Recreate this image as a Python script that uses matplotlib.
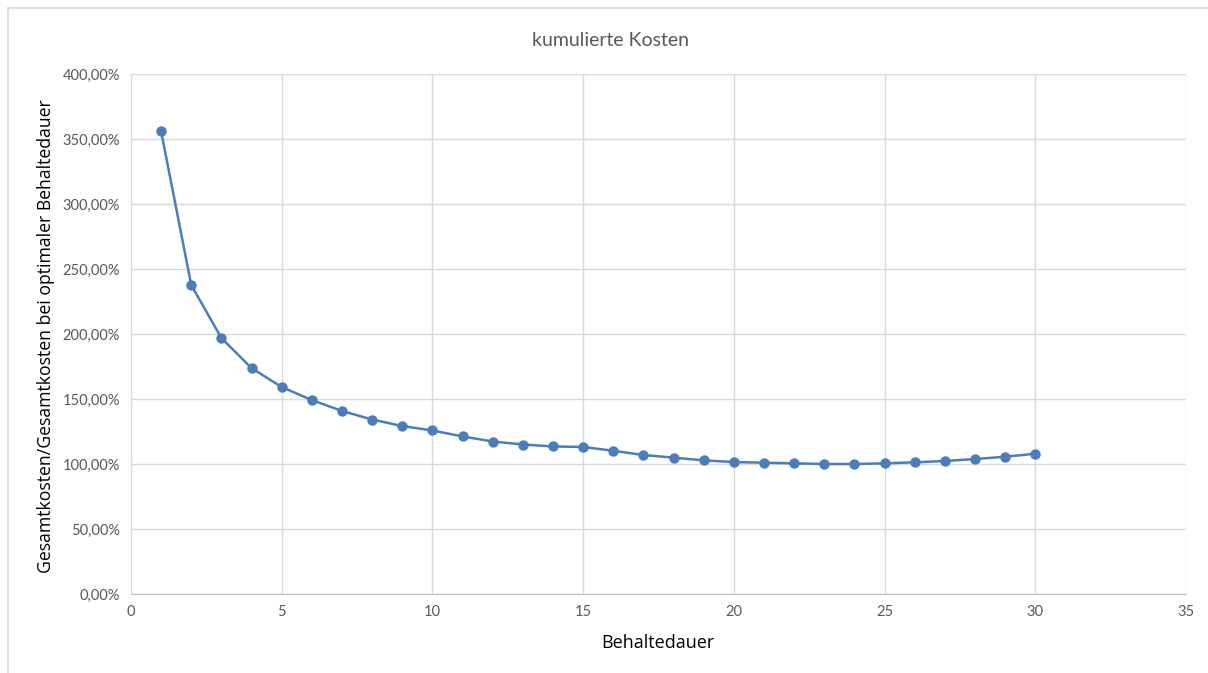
import matplotlib

matplotlib.use("Agg")
import matplotlib.pyplot as plt
from matplotlib.lines import Line2D
from matplotlib.ticker import FuncFormatter, MultipleLocator

# Behaltedauer (Jahre) und Gesamtkosten relativ zur optimalen Behaltedauer (%)
behaltedauer = list(range(1, 31))
kosten_relativ = [
    356.0, 237.7, 196.9, 173.8, 159.2, 149.2, 140.8, 134.2, 129.2, 125.8,
    121.2, 117.3, 115.0, 113.5, 113.1, 110.2, 106.9, 104.9, 102.8, 101.5,
    101.0, 100.5, 100.0, 100.0, 100.5, 101.3, 102.3, 103.8, 105.6, 107.9,
]

title = "kumulierte Kosten"
xlabel = "Behaltedauer"
ylabel = "Gesamtkosten/Gesamtkosten bei optimaler Behaltedauer"

plt.rcParams["font.family"] = ["Lato", "DejaVu Sans"]

grid_color = "#d9d9d9"
tick_color = "#595959"
line_color = "#4a7ebb"
label_font = ["Open Sans", "DejaVu Sans"]

fig = plt.figure(figsize=(12.08, 6.73), dpi=100)
ax = fig.add_axes([0.1084, 0.1174, 0.8734, 0.7726])

ax.plot(behaltedauer, kosten_relativ, color=line_color, linewidth=1.8,
        marker="o", markersize=7.5, markeredgewidth=0, zorder=3)

ax.set_xlim(0, 35)
ax.set_ylim(0, 400)
ax.xaxis.set_major_locator(MultipleLocator(5))
ax.yaxis.set_major_locator(MultipleLocator(50))
ax.yaxis.set_major_formatter(
    FuncFormatter(lambda v, _: f"{v:.2f}%".replace(".", ",")))

ax.grid(True, color=grid_color, linewidth=1.0)
ax.set_axisbelow(True)
for side in ("top", "right"):
    ax.spines[side].set_visible(False)
ax.spines["left"].set_color(grid_color)
ax.spines["bottom"].set_color("#bfbfbf")
ax.tick_params(length=0, labelsize=10.5, colors=tick_color, pad=8)

# Achsentitel frei positioniert
fig.text(658 / 1208, 1 - 643 / 673, xlabel, ha="center", va="center",
         fontsize=13, color="black", family=label_font)
fig.text(46 / 1208, 1 - 336 / 673, ylabel, ha="center", va="center",
         rotation=90, fontsize=12.7, color="black", family=label_font)
fig.text(0.505, 0.940, title, ha="center", va="center",
         fontsize=14, color=tick_color)

# Rahmen des Diagrammbereichs (oben und links sichtbar)
fig.add_artist(Line2D([8 / 1208, 8 / 1208], [0, 1 - 8 / 673],
                      transform=fig.transFigure, color=grid_color, linewidth=1.2))
fig.add_artist(Line2D([8 / 1208, 1], [1 - 8 / 673, 1 - 8 / 673],
                      transform=fig.transFigure, color=grid_color, linewidth=1.2))

fig.savefig("out.png", dpi=100)
